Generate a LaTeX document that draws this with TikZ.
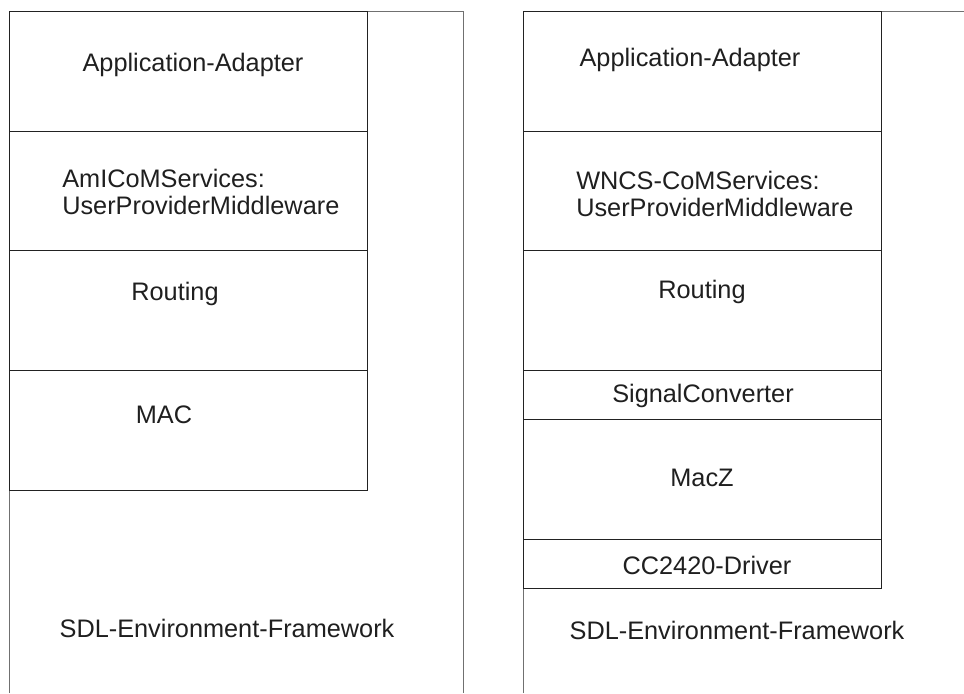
\documentclass[tikz,border=0pt]{standalone}
\usepackage{fontspec}
\setmainfont{Liberation Sans}
\definecolor{layerline}{HTML}{222222}
\definecolor{frameline}{HTML}{707070}
\tikzset{
    layer/.style={draw=layerline, line width=0.7pt},
    frame/.style={draw=frameline, line width=0.7pt},
    caption/.style={font=\fontsize{18}{19.2}\selectfont, text=black!88, inner sep=0pt, align=left}
}
\begin{document}
\begin{tikzpicture}[x=0.025cm, y=-0.025cm]
    \useasboundingbox (0,0) rectangle (964,693);

    % Left stack
    \coordinate (LA) at (9.5,11);
    \coordinate (LB) at (9.5,131);
    \coordinate (LC) at (9.5,250);
    \coordinate (LD) at (9.5,370);
    \coordinate (LE) at (367.7,490);
    \coordinate (LF) at (463,11);

    % Right stack
    \coordinate (RA) at (523.3,11);
    \coordinate (RB) at (523.3,131);
    \coordinate (RC) at (523.3,250);
    \coordinate (RD) at (523.3,370);
    \coordinate (RE) at (523.3,419);
    \coordinate (RF) at (523.3,539);
    \coordinate (RG) at (881.3,588);

    % Frames
    \draw[frame] (9.5,693) -- (LA) -- (LF) -- (463,693);
    \draw[frame] (523.3,693) -- (RA) -- (964,11);

    % Layers
    \draw[layer] (LA) rectangle (LE);
    \draw[layer] (LB) -- (367.7,131);
    \draw[layer] (LC) -- (367.7,250);
    \draw[layer] (LD) -- (367.7,370);
    \draw[layer] (RA) rectangle (RG);
    \draw[layer] (RB) -- (881.3,131);
    \draw[layer] (RC) -- (881.3,250);
    \draw[layer] (RD) -- (881.3,370);
    \draw[layer] (RE) -- (881.3,419);
    \draw[layer] (RF) -- (881.3,539);

    % Texts
    \node[caption] (appL) at (193,65) {Application-Adapter};
    \node[caption, anchor=west] (amicom) at (62,192) {AmICoMServices:\\UserProviderMiddleware};
    \node[caption] (routL) at (175,294) {Routing};
    \node[caption] (mac) at (164,415) {MAC};
    \node[caption] (sdlL) at (227,628) {SDL-Environment-Framework};

    \node[caption] (appR) at (690,60) {Application-Adapter};
    \node[caption, anchor=west] (wncs) at (576,194) {WNCS-CoMServices:\\UserProviderMiddleware};
    \node[caption] (routR) at (702,292) {Routing};
    \node[caption] (signal) at (703,396) {SignalConverter};
    \node[caption] (macz) at (702,478) {MacZ};
    \node[caption] (driver) at (707,565) {CC2420-Driver};
    \node[caption] (sdlR) at (737,630) {SDL-Environment-Framework};
\end{tikzpicture}
\end{document}
